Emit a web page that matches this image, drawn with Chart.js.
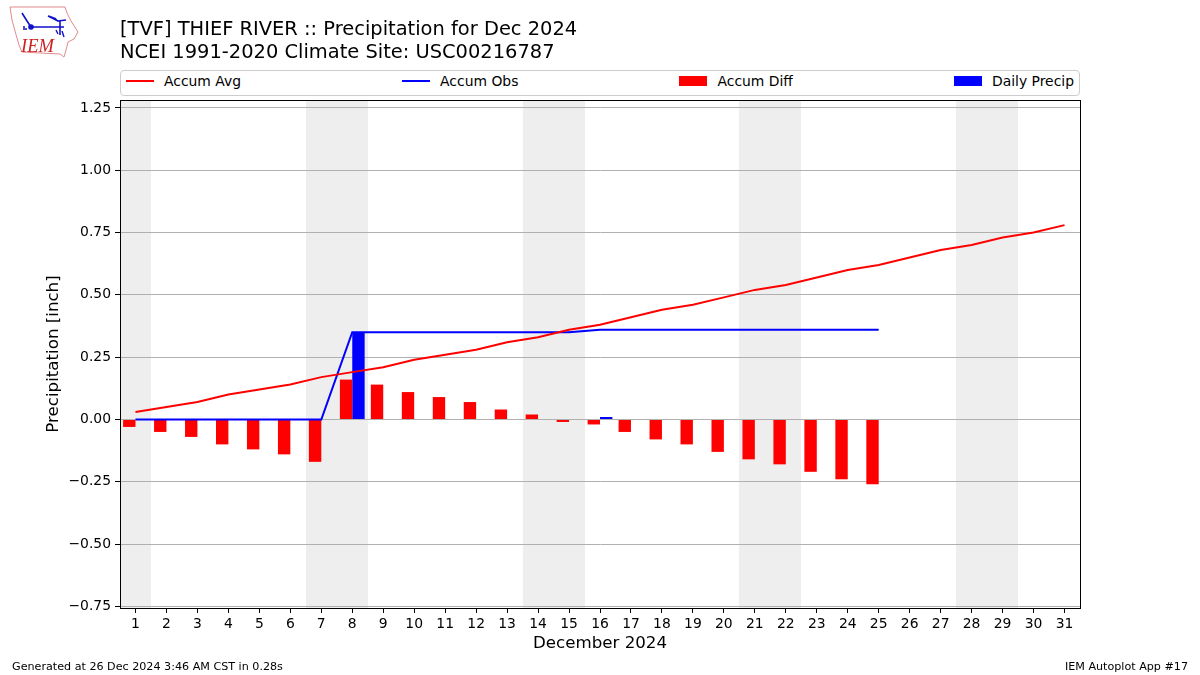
<!DOCTYPE html>
<html>
<head>
<meta charset="utf-8">
<title>Precipitation for Dec 2024</title>
<script src="https://cdn.jsdelivr.net/npm/chart.js@4"></script>
<style>
    html, body { margin: 0; padding: 0; background: #fff; }
    #wrap { position: relative; width: 1200px; height: 675px; overflow: hidden; font-family: "DejaVu Sans", sans-serif; color: #000; }
    canvas { position: absolute; left: 0; top: 0; }
    #logo { position: absolute; left: 0; top: 0; }
    #titulo { position: absolute; left: 120px; top: 18px; font-size: 19.45px; line-height: 22.6px; white-space: nowrap; }
    #legenda { position: absolute; left: 120px; top: 70px; width: 960px; height: 26px; box-sizing: border-box; padding: 0 5px 5px; border: 1px solid #ccc; border-radius: 4px; display: flex; justify-content: space-between; align-items: center; font-size: 13.9px; background: #fff; }
    #legenda span.item { display: flex; align-items: center; }
    #legenda i { display: block; width: 28px; margin-right: 10px; }
    .rodape { position: absolute; top: 660px; font-size: 11.15px; white-space: nowrap; }
</style>
</head>
<body>
<div id="wrap">
    <canvas id="grafico" width="1200" height="675"></canvas>
    <svg id="logo" width="90" height="62" viewBox="0 0 90 62">
        <path d="M10 7 L65 7 L67 13 L71 21 L78 32 L74 39 L68 42 L66 50 L64 57 L60 54 L22 52 L19 45 L15 31 L12 20 Z" fill="none" stroke="#e08a8a" stroke-width="1"/>
        <path d="M31 27 L64 27 M60 21 L60 35 M22 13 L27 21 L31 27 M48 16 L58 21 L66 20" fill="none" stroke="#1111cc" stroke-width="1.6"/>
        <circle cx="31" cy="27" r="2.8" fill="#1111cc"/>
        <path d="M48 15 L56 18 L58 22 Z" fill="#1111cc"/>
        <path d="M23 29 L27 29 M23 27 L25 27 M56 30 L58 34 M62 31 L64 37" stroke="#1111cc" stroke-width="1.4" fill="none"/>
        <text x="21" y="52" font-family="Liberation Serif" font-style="italic" font-size="18.5" fill="#cc2222">IEM</text>
    </svg>
    <div id="titulo">[TVF] THIEF RIVER :: Precipitation for Dec 2024<br>NCEI 1991-2020 Climate Site: USC00216787</div>
    <div id="legenda"></div>
    <div class="rodape" style="left:12px">Generated at 26 Dec 2024 3:46 AM CST in 0.28s</div>
    <div class="rodape" style="right:12px">IEM Autoplot App #17</div>
</div>
<script>
// dados
const dias = ['1','2','3','4','5','6','7','8','9','10','11','12','13','14','15','16','17','18','19','20','21','22','23','24','25','26','27','28','29','30','31'];
const accumAvg = [0.03,0.05,0.07,0.10,0.12,0.14,0.17,0.19,0.21,0.24,0.26,0.28,0.31,0.33,0.36,0.38,0.41,0.44,0.46,0.49,0.52,0.54,0.57,0.60,0.62,0.65,0.68,0.70,0.73,0.75,0.78];
const accumObs = [0,0,0,0,0,0,0,0.35,0.35,0.35,0.35,0.35,0.35,0.35,0.35,0.36,0.36,0.36,0.36,0.36,0.36,0.36,0.36,0.36,0.36];
const accumDiff = [-0.03,-0.05,-0.07,-0.10,-0.12,-0.14,-0.17,0.16,0.14,0.11,0.09,0.07,0.04,0.02,-0.01,-0.02,-0.05,-0.08,-0.10,-0.13,-0.16,-0.18,-0.21,-0.24,-0.26];
const dailyPrecip = [0,0,0,0,0,0,0,0.35,0,0,0,0,0,0,0,0.01,0,0,0,0,0,0,0,0,0];
const fimDeSemana = ['1','7','8','14','15','21','22','28','29'];
const yTicks = [-0.75,-0.50,-0.25,0,0.25,0.50,0.75,1.00,1.25];

const FONTE = '"DejaVu Sans", sans-serif';

// faixas cinzas dos fins de semana, atras da grade
const faixasPlugin = {
    id: 'faixas',
    beforeDraw(chart) {
        const { ctx, chartArea, scales: { x } } = chart;
        const passo = x.width / dias.length;
        ctx.save();
        ctx.fillStyle = '#eeeeee';
        fimDeSemana.forEach(d => {
            const centro = x.getPixelForValue(dias.indexOf(d));
            const esq = Math.round(centro - passo / 2);
            const dir = Math.round(centro + passo / 2);
            ctx.fillRect(esq, chartArea.top, dir - esq, chartArea.height);
        });
        ctx.restore();
    }
};

// moldura preta nos quatro lados
const molduraPlugin = {
    id: 'moldura',
    afterDatasetsDraw(chart) {
        const { ctx, chartArea: a } = chart;
        ctx.save();
        ctx.strokeStyle = '#000';
        ctx.lineWidth = 1;
        ctx.strokeRect(a.left + 0.5, a.top + 0.5, a.width, a.height);
        ctx.restore();
    }
};

const grafico = new Chart(document.getElementById('grafico'), {
    data: {
        labels: dias,
        datasets: [
            { type: 'line', label: 'Accum Avg', data: accumAvg, borderColor: '#ff0000', backgroundColor: '#ff0000', borderWidth: 2, pointRadius: 0, tension: 0, order: 1 },
            { type: 'line', label: 'Accum Obs', data: accumObs, borderColor: '#0000ff', backgroundColor: '#0000ff', borderWidth: 2, pointRadius: 0, tension: 0, order: 2 },
            { type: 'bar', label: 'Accum Diff', data: accumDiff, backgroundColor: '#ff0000', categoryPercentage: 0.8, barPercentage: 1, order: 3 },
            { type: 'bar', label: 'Daily Precip', data: dailyPrecip, backgroundColor: '#0000ff', categoryPercentage: 0.8, barPercentage: 1, order: 4 }
        ]
    },
    options: {
        responsive: false,
        animation: false,
        layout: { padding: { top: 100, right: 120, left: 0, bottom: 0 } },
        plugins: { legend: { display: false }, tooltip: { enabled: false } },
        scales: {
            x: {
                type: 'category',
                offset: true,
                grid: { drawOnChartArea: false, offset: false, tickColor: '#000', tickLength: 5 },
                border: { color: '#000' },
                ticks: { color: '#000', autoSkip: false, maxRotation: 0, padding: 3, font: { family: FONTE, size: 13.9 } },
                title: { display: true, text: 'December 2024', color: '#000', padding: { top: 3, bottom: 21 }, font: { family: FONTE, size: 16.67 } },
                afterFit(scale) { scale.height = 67; }
            },
            y: {
                type: 'linear',
                min: -0.7565,
                max: 1.282,
                afterBuildTicks(scale) { scale.ticks = yTicks.map(v => ({ value: v })); },
                grid: { color: '#b0b0b0', lineWidth: 1, tickColor: '#000', tickLength: 5 },
                border: { color: '#000' },
                ticks: {
                    color: '#000',
                    padding: 4,
                    font: { family: FONTE, size: 13.9 },
                    callback: v => v.toFixed(2).replace('-', '\u2212')
                },
                title: { display: true, text: 'Precipitation [inch]', color: '#000', padding: { top: 44, bottom: 4 }, font: { family: FONTE, size: 16.67 } },
                afterFit(scale) { scale.width = 120; }
            }
        }
    },
    plugins: [faixasPlugin, molduraPlugin]
});

// legenda em HTML, espalhada na largura toda como no original
const legenda = document.getElementById('legenda');
grafico.data.datasets.forEach(ds => {
    const item = document.createElement('span');
    item.className = 'item';
    const amostra = document.createElement('i');
    amostra.style.height = ds.type === 'line' ? '2px' : '10px';
    amostra.style.background = ds.backgroundColor;
    item.appendChild(amostra);
    item.appendChild(document.createTextNode(ds.label));
    legenda.appendChild(item);
});
</script>
</body>
</html>
